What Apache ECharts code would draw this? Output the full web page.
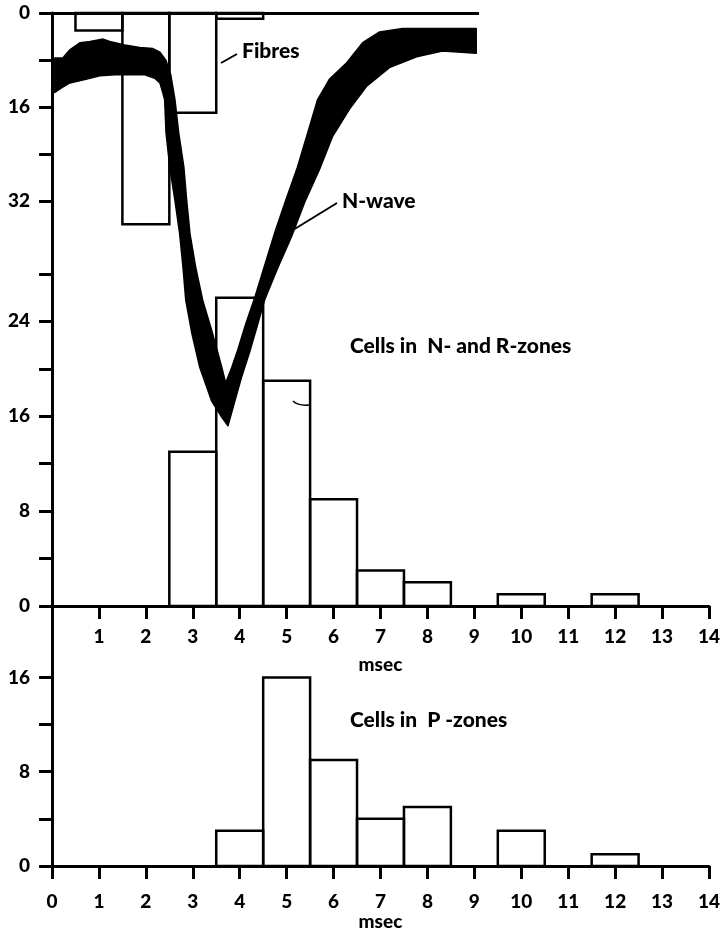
<!DOCTYPE html>
<html>
<head>
<meta charset="utf-8">
<script src="https://cdn.jsdelivr.net/npm/echarts@6/dist/echarts.min.js"></script>
<style>
html,body{margin:0;padding:0;background:#fff;}
#chart{width:723px;height:932px;}
</style>
</head>
<body>
<div id="chart"></div>
<script>
// ---- data ----
const msecTicks = [0,1,2,3,4,5,6,7,8,9,10,11,12,13,14];
const fibresBins = [1, 2, 3, 4];
const fibresCount = [3, 36, 17, 1];
const cellsNRBins = [3, 4, 5, 6, 7, 8, 10, 12];
const cellsNRCount = [13, 26, 19, 9, 3, 2, 1, 1];
const cellsPBins = [4, 5, 6, 7, 8, 10, 12];
const cellsPCount = [3, 16, 9, 4, 5, 3, 1];
const fibresTicks = [0, 8, 16, 24, 32];
const fibresLabels = [0, 16, 32];
const cellsNRTicks = [0, 4, 8, 12, 16, 20, 24, 28];
const cellsNRLabels = [0, 8, 16, 24];
const cellsPTicks = [0, 4, 8, 12, 16];
const cellsPLabels = [0, 8, 16];
const fibresBaselineEnd = 9.1;
// N-wave band (msec, amplitude on N/R-cells scale): upper/inner and lower/outer edges
const nwaveUpper = [
 [0.06,46.2],[0.23,46.2],[0.38,46.9],[0.60,47.5],[0.81,47.6],[1.09,47.8],[1.23,47.6],
 [1.55,47.3],[1.87,47.1],[2.15,47.0],[2.30,46.7],[2.43,46.0],[2.53,44.8],[2.62,42.7],
 [2.70,39.9],[2.81,37.0],[2.87,34.2],[2.94,31.4],[3.06,28.6],[3.21,25.8],[3.42,23.0],
 [3.62,20.1],[3.70,18.8],[3.83,20.1],[3.96,21.6],[4.13,23.8],[4.32,26.0],[4.53,28.7],
 [4.74,31.4],[4.98,34.2],[5.23,37.0],[5.45,39.9],[5.66,42.7],[5.91,44.4],
 [6.28,45.8],[6.62,47.5],[6.98,48.4],[7.47,48.7],[8.11,48.7],[9.04,48.7]
];
const nwaveLower = [
 [0.06,43.3],[0.21,43.7],[0.38,44.1],[0.70,44.4],[1.02,44.7],[1.34,44.8],[1.66,44.8],
 [1.98,44.8],[2.19,44.5],[2.30,44.1],[2.36,43.3],[2.40,42.7],[2.43,39.9],[2.51,37.0],
 [2.62,34.2],[2.72,31.4],[2.79,28.6],[2.85,25.8],[2.98,23.0],[3.15,20.1],[3.40,17.3],
 [3.62,15.9],[3.75,15.2],[3.89,17.2],[4.04,19.3],[4.21,21.4],[4.38,23.7],[4.53,25.8],
 [4.81,28.5],[5.11,31.2],[5.38,34.0],[5.70,36.8],[5.98,39.6],[6.34,41.9],[6.70,43.8],
 [7.19,45.4],[7.77,46.3],[8.32,46.8],[9.04,46.6]
];

// ---- helpers ----
const FONT = 'Lato';
const pairs = (xs, ys) => xs.map((x, i) => [x, ys[i]]);
function histItem(params, api) {
  const x = api.value(0), v = api.value(1);
  const a = api.coord([x - 0.5, 0]);
  const b = api.coord([x + 0.5, v]);
  return {
    type: 'rect',
    shape: { x: Math.min(a[0], b[0]), y: Math.min(a[1], b[1]), width: Math.abs(b[0] - a[0]), height: Math.abs(b[1] - a[1]) },
    style: { fill: 'none', stroke: '#000', lineWidth: 2.5 }
  };
}
const axisLine = { show: true, lineStyle: { color: '#000', width: 3 } };
const tickStyle = (vals) => ({ show: true, inside: false, length: 13, customValues: vals, lineStyle: { color: '#000', width: 3 } });
const labelStyle = (vals, margin) => ({ show: true, customValues: vals, margin: margin, color: '#000', fontFamily: FONT, fontWeight: 900, fontSize: 19 });
const nameStyle = { color: '#000', fontFamily: FONT, fontWeight: 900, fontSize: 19 };
const annFont = '900 21px ' + FONT;

const chart = echarts.init(document.getElementById('chart'), null, { renderer: 'canvas' });
chart.setOption({
  backgroundColor: '#fff',
  animation: false,
  grid: [
    { left: 52, top: 13, width: 659, height: 593 },
    { left: 52, top: 606, width: 659, height: 262 }
  ],
  xAxis: [
    { type: 'value', gridIndex: 0, min: 0, max: 14, interval: 1, position: 'bottom',
      axisLine: axisLine, axisTick: tickStyle(msecTicks.slice(1)), axisLabel: labelStyle(msecTicks.slice(1), 21),
      splitLine: { show: false },
      name: 'msec', nameLocation: 'middle', nameGap: 49, nameTextStyle: nameStyle },
    { type: 'value', gridIndex: 1, min: 0, max: 14, interval: 1, position: 'bottom',
      axisLine: axisLine, axisTick: tickStyle(msecTicks), axisLabel: labelStyle(msecTicks, 26),
      splitLine: { show: false },
      name: 'msec', nameLocation: 'middle', nameGap: 46, nameTextStyle: nameStyle }
  ],
  yAxis: [
    { type: 'value', gridIndex: 0, min: 0, max: 50, position: 'left',
      axisLine: axisLine, axisTick: tickStyle(cellsNRTicks), axisLabel: labelStyle(cellsNRLabels, 22),
      splitLine: { show: false } },
    { type: 'value', gridIndex: 0, min: 0, max: 101, inverse: true, position: 'left',
      axisLine: { show: false }, axisTick: tickStyle(fibresTicks), axisLabel: labelStyle(fibresLabels, 22),
      splitLine: { show: false } },
    { type: 'value', gridIndex: 1, min: 0, max: 22.06, position: 'left',
      axisLine: axisLine, axisTick: tickStyle(cellsPTicks), axisLabel: labelStyle(cellsPLabels, 22),
      splitLine: { show: false } }
  ],
  series: [
    { type: 'custom', name: 'Fibres', xAxisIndex: 0, yAxisIndex: 1, data: pairs(fibresBins, fibresCount),
      renderItem: histItem, silent: true, z: 3,
      markLine: { silent: true, symbol: 'none', label: { show: false },
        lineStyle: { color: '#000', width: 3, type: 'solid' },
        data: [[{ coord: [0, 0] }, { coord: [fibresBaselineEnd, 0] }]] } },
    { type: 'custom', name: 'Cells in N- and R-zones', xAxisIndex: 0, yAxisIndex: 0, data: pairs(cellsNRBins, cellsNRCount),
      renderItem: histItem, silent: true, z: 3 },
    { type: 'custom', name: 'N-wave', xAxisIndex: 0, yAxisIndex: 0, data: [[0, 0]], silent: true, z: 5,
      renderItem: function (params, api) {
        const pts = nwaveUpper.map(p => api.coord(p)).concat(nwaveLower.slice().reverse().map(p => api.coord(p)));
        return { type: 'polygon', shape: { points: pts }, style: { fill: '#000', stroke: '#000', lineWidth: 1.5, lineJoin: 'round' } };
      } },
    { type: 'custom', name: 'Cells in P-zones', xAxisIndex: 1, yAxisIndex: 2, data: pairs(cellsPBins, cellsPCount),
      renderItem: histItem, silent: true, z: 3 }
  ],
  graphic: [
    { type: 'text', x: 242, y: 51, style: { text: 'Fibres', fill: '#000', font: annFont, textAlign: 'left', textVerticalAlign: 'middle', align: 'left', verticalAlign: 'middle' } },
    { type: 'line', shape: { x1: 221, y1: 63, x2: 237, y2: 54 }, style: { stroke: '#000', lineWidth: 2 } },
    { type: 'text', x: 342, y: 201, style: { text: 'N-wave', fill: '#000', font: annFont, textAlign: 'left', textVerticalAlign: 'middle', align: 'left', verticalAlign: 'middle' } },
    { type: 'line', shape: { x1: 293, y1: 230, x2: 337, y2: 203 }, style: { stroke: '#000', lineWidth: 2 } },
    { type: 'text', x: 350, y: 346, style: { text: 'Cells in  N- and R-zones', fill: '#000', font: annFont, textAlign: 'left', textVerticalAlign: 'middle', align: 'left', verticalAlign: 'middle' } },
    { type: 'bezierCurve', shape: { x1: 293, y1: 401, cpx1: 298, cpy1: 406, x2: 309, y2: 405 }, style: { stroke: '#000', lineWidth: 1.5, fill: 'none' } },
    { type: 'text', x: 350, y: 720, style: { text: 'Cells in  P -zones', fill: '#000', font: annFont, textAlign: 'left', textVerticalAlign: 'middle', align: 'left', verticalAlign: 'middle' } }
  ]
});
</script>
</body>
</html>
